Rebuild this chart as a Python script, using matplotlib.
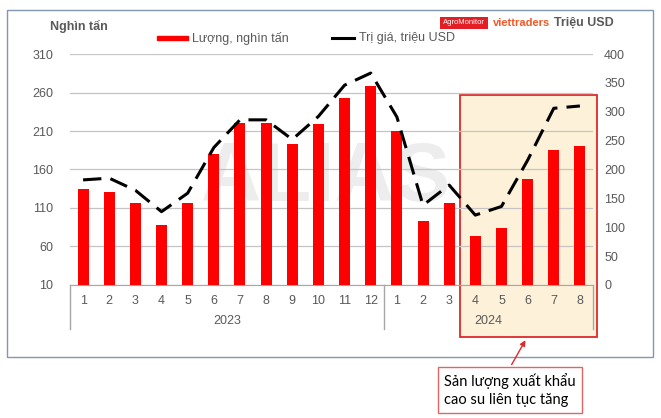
import numpy as np
import matplotlib.pyplot as plt
from matplotlib.patches import Rectangle, FancyArrowPatch
from matplotlib.lines import Line2D
import matplotlib.transforms as mtransforms

months = ["1", "2", "3", "4", "5", "6", "7", "8", "9", "10", "11", "12",
          "1", "2", "3", "4", "5", "6", "7", "8"]
years = ["2023", "2024"]
year_counts = [12, 8]

# Lượng (nghìn tấn), left axis
volume = [135, 131, 116, 88, 117, 180, 220, 221, 193, 219, 253, 268,
          210, 93, 116, 74, 84, 148, 185, 190]
# Trị giá (triệu USD), right axis
value = [182, 185, 164, 127, 159, 238, 286, 286, 252, 292, 346, 367,
         291, 138, 173, 121, 136, 216, 306, 310]

left_ticks = [10, 60, 110, 160, 210, 260, 310]
right_ticks = [0, 50, 100, 150, 200, 250, 300, 350, 400]

grey = "#595959"
plt.rcParams['font.family'] = ['Liberation Sans', 'DejaVu Sans']

fig = plt.figure(figsize=(6.61, 4.18), dpi=100)
ax = fig.add_axes([0.1059, 0.3182, 0.7912, 0.5526])
ax2 = ax.twinx()

x = np.arange(len(months))

# highlighted period (2024 months 4-8)
trans = mtransforms.blended_transform_factory(ax.transData, ax.transAxes)
box = Rectangle((14.42, -0.225), 5.23, 1.048, transform=trans,
                facecolor="#FDF2D9", edgecolor="#E0282A", linewidth=1.3,
                clip_on=False, zorder=0)
ax.add_patch(box)

# watermark behind the bars
ax.text(9.3, 0.46, "ALIAS", transform=trans, fontsize=60, fontweight="bold",
        color="#EDEDED", ha="center", va="center", zorder=0.5)

ax.bar(x, volume, width=0.42, color="#FF0000", zorder=3)
ax.set_ylim(10, 310)
ax.set_xlim(-0.5, 19.5)
ax.set_yticks(left_ticks)
ax.grid(axis="y", color="#C4C4C4", linewidth=0.9, zorder=1)
ax.set_axisbelow(False)
for s in ["top", "right", "left"]:
    ax.spines[s].set_visible(False)
ax.spines["bottom"].set_color("#A6A6A6")
ax.tick_params(axis="y", length=0, labelsize=9, labelcolor=grey, pad=12)
ax.set_xticks(x)
ax.set_xticklabels(months)
ax.tick_params(axis="x", length=0, labelsize=9, labelcolor=grey, pad=7)
ax.patch.set_visible(False)

ax2.plot(x, value, color="black", linewidth=2.2, dashes=(6, 3), zorder=4)
ax2.set_ylim(0, 400)
ax2.set_yticks(right_ticks)
for s in ax2.spines.values():
    s.set_visible(False)
ax2.tick_params(axis="y", length=0, labelsize=9, labelcolor=grey, pad=8)

# category axis: year groups and separators
start = 0
for yr, n in zip(years, year_counts):
    ax.text(start + (n - 1) / 2, -0.155, yr, transform=trans, ha="center",
            va="center", fontsize=9, color=grey)
    start += n
for sep in [-0.5, 11.5, 19.5]:
    ax.plot([sep, sep], [0, -0.19], transform=trans, color="#A6A6A6",
            linewidth=1, clip_on=False)

# legend (drawn by hand to match the spacing)
fig.patches.append(Rectangle((0.2375, 0.904), 0.047, 0.011,
                             transform=fig.transFigure, color="#FF0000"))
fig.text(0.29, 0.909, "Lượng, nghìn tấn", fontsize=9, color=grey,
         ha="left", va="center")
fig.lines.append(Line2D([0.503, 0.535], [0.909, 0.909],
                        transform=fig.transFigure, color="black",
                        linewidth=2.2))
fig.text(0.543, 0.909, "Trị giá, triệu USD", fontsize=9, color=grey,
         ha="left", va="center")

# titles
fig.text(0.928, 0.945, "Triệu USD", fontsize=9, fontweight="bold",
         color=grey, ha="right", va="center")
fig.text(0.076, 0.937, "Nghìn tấn", fontsize=9, fontweight="bold",
         color=grey, ha="left", va="center")
fig.text(0.746, 0.945, "viettraders", fontsize=8, fontweight="bold",
         color="#F05A28", ha="left", va="center")
fig.text(0.702, 0.945, "AgroMonitor", fontsize=5.5, color="white",
         ha="center", va="center",
         bbox=dict(boxstyle="square,pad=0.35", facecolor="#E31E24",
                   edgecolor="none"))

# outer border
fig.patches.append(Rectangle((0.0106, 0.146), 0.977, 0.830,
                             transform=fig.transFigure, fill=False,
                             edgecolor="#8497B0", linewidth=1))

# note box and arrow
fig.text(0.672, 0.067, "Sản lượng xuất khẩu\ncao su liên tục tăng",
         fontsize=10.5, family=["Lato", "DejaVu Sans"], color="black",
         ha="left", va="center", linespacing=1.35,
         bbox=dict(boxstyle="square,pad=0.45", facecolor="white",
                   edgecolor="#E06666", linewidth=1))
fig.patches.append(FancyArrowPatch(
    (0.772, 0.122), (0.797, 0.192), transform=fig.transFigure,
    arrowstyle="-|>", mutation_scale=8, color="#E0282A", linewidth=1))

fig.savefig("out.png", dpi=100)
